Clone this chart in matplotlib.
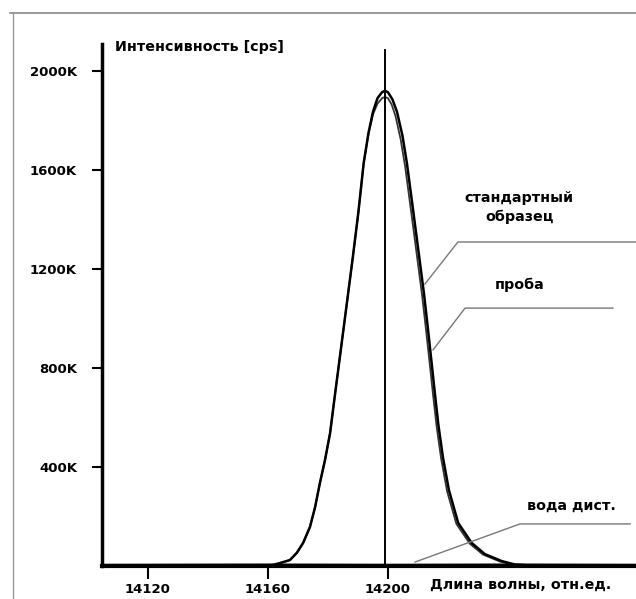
import numpy as np
import matplotlib
matplotlib.use("Agg")
import matplotlib.pyplot as plt
from matplotlib.lines import Line2D

plt.rcParams['font.family'] = ['DejaVu Sans']
plt.rcParams['font.weight'] = 'bold'

# wavelength (rel. units) and intensity (K cps)
wl_std = [14105, 14155, 14161.7, 14164, 14167.3, 14169.6, 14171.7, 14174, 14175.7,
          14177.3, 14179, 14180.7, 14182.2, 14183.7, 14185.2, 14186.7, 14188.2,
          14190.1, 14191.9, 14193.5, 14195, 14196.5, 14198, 14199, 14200, 14201.5,
          14203, 14204.8, 14206.3, 14208.5, 14210.5, 14212, 14213.3, 14214.5, 14215.6,
          14216.8, 14218.3, 14220.3, 14223.4, 14227.9, 14232.3, 14237.9, 14242.3,
          14250, 14283]
int_std = [0, 0, 4, 12, 24, 53, 93, 158, 238,
           335, 428, 537, 680, 820, 960, 1100, 1240,
           1426, 1628, 1750, 1835, 1890, 1914, 1920, 1914, 1885,
           1835, 1740, 1628, 1426, 1240, 1100, 960, 825, 700,
           570, 440, 307, 174, 93, 48, 20, 6,
           0, 0]

wl_prob = [14105, 14155, 14161.7, 14164, 14167.3, 14169.6, 14171.7, 14174, 14175.7,
           14177.3, 14179, 14180.7, 14182.2, 14183.7, 14185.2, 14186.7, 14188.2,
           14190.1, 14191.9, 14193.5, 14195, 14196.5, 14198, 14199, 14200, 14201.2,
           14202.5, 14204.2, 14205.7, 14207.9, 14209.9, 14211.4, 14212.7, 14213.9, 14215,
           14216.2, 14217.7, 14219.7, 14222.8, 14227.3, 14231.7, 14237.3, 14241.7,
           14250, 14283]
int_prob = [0, 0, 4, 12, 24, 53, 93, 158, 238,
            335, 428, 537, 680, 820, 960, 1100, 1240,
            1426, 1628, 1745, 1825, 1868, 1890, 1895, 1890, 1865,
            1818, 1725, 1615, 1415, 1230, 1090, 952, 818, 694,
            565, 435, 302, 170, 90, 46, 18, 5,
            0, 0]

wl_water = [14105, 14160, 14200, 14240, 14283]
int_water = [2, 3, 2, 3, 2]

peak_wl = 14199

fig = plt.figure(figsize=(6.36, 5.99), dpi=100)
W, H = 636, 599
ax = fig.add_axes([102 / W, (H - 566) / H, (W - 102) / W, (566 - 44) / H])

ax.plot(wl_water, int_water, color='black', lw=2.5, clip_on=False)
ax.plot(wl_prob, int_prob, color='#333333', lw=1.3)
ax.plot(wl_std, int_std, color='black', lw=1.8)
ax.axvline(peak_wl, ymax=(566 - 50) / (566 - 44), color='black', lw=1.4)

ax.set_xlim(14104.67, 14282.67)
ax.set_ylim(0, 2109)
ax.set_xticks([14120, 14160, 14200])
ax.set_xticklabels(['14120', '14160', '14200'])
ax.set_yticks([400, 800, 1200, 1600, 2000])
ax.set_yticklabels(['400K', '800K', '1200K', '1600K', '2000K'])
ax.tick_params(axis='both', labelsize=9.5, width=1.5)
ax.tick_params(axis='x', length=9, pad=3)
ax.tick_params(axis='y', length=7, pad=11)

for s in ['top', 'right']:
    ax.spines[s].set_visible(False)
ax.spines['left'].set_linewidth(2.5)
ax.spines['bottom'].set_linewidth(3)

# leader lines for the legend texts
gray = '#777777'
ax.plot([14212.3, 14223.3, 14282.7], [1139, 1309, 1309], color=gray, lw=1, clip_on=False)
ax.plot([14215, 14225.7, 14275], [873, 1042, 1042], color=gray, lw=1, clip_on=False)
ax.plot([14209, 14244, 14280.7], [16, 170, 170], color=gray, lw=1, clip_on=False)

fs = 10.3
ax.text(14243.7, 1487, 'стандартный', ha='center', va='center', fontsize=fs)
ax.text(14243.7, 1410, 'образец', ha='center', va='center', fontsize=fs)
ax.text(14244, 1135, 'проба', ha='center', va='center', fontsize=fs)
ax.text(14261.3, 242, 'вода дист.', ha='center', va='center', fontsize=fs)

fig.text(115 / W, 1 - 47 / H, 'Интенсивность [cps]', ha='left', va='center', fontsize=fs)
fig.text(430 / W, 1 - 585 / H, 'Длина волны, отн.ед.', ha='left', va='center', fontsize=fs)

# scan frame
fig.add_artist(Line2D([10 / W, 1], [1 - 13 / H, 1 - 13 / H], color='#888888', lw=1.2))
fig.add_artist(Line2D([13 / W, 13 / W], [0, 1 - 13 / H], color='#999999', lw=1))

fig.savefig('out.png', dpi=100)
